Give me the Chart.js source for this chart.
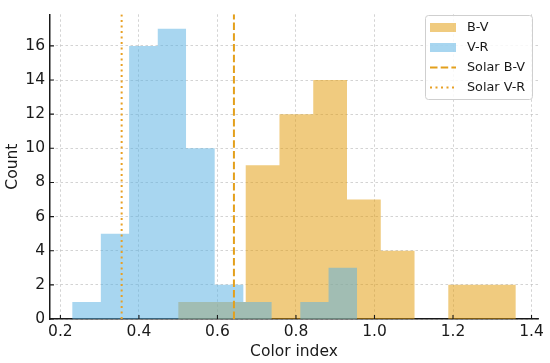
<!DOCTYPE html>
<html><head><meta charset="utf-8">
<script src="https://cdn.jsdelivr.net/npm/chart.js@4.4.1/dist/chart.umd.min.js"></script>
<style>html,body{margin:0;padding:0;background:#fff}#wrap{width:550px;height:363px}</style>
</head><body><div id="wrap"><canvas id="c" width="550" height="363"></canvas></div>
<script>
// ---- data ----
const seriesNames = ['B-V', 'V-R'];
const bvBinEdges = [0.500, 0.586, 0.672, 0.758, 0.844, 0.930, 1.016, 1.102, 1.188, 1.274, 1.360];
const bvCounts   = [1, 1, 9, 12, 14, 7, 4, 0, 2, 2];
const vrBinEdges = [0.230, 0.303, 0.375, 0.448, 0.520, 0.593, 0.666, 0.738, 0.811, 0.883, 0.956];
const vrCounts   = [1, 5, 16, 17, 10, 2, 1, 0, 1, 3];
const solarNames  = ['Solar B-V', 'Solar V-R'];
const solarValues = [0.642, 0.356];
const xTickValues = [0.2, 0.4, 0.6, 0.8, 1.0, 1.2, 1.4];
const yTickValues = [0, 2, 4, 6, 8, 10, 12, 14, 16];
const xTitle = 'Color index';
const yTitle = 'Count';

const X_MIN = 0.1735, X_MAX = 1.4165, Y_MAX = 17.85;
const FONT = "'DejaVu Sans', sans-serif";
const TXT = '#1a1a1a';

function stepPoints(edges, counts) {
  return edges.map((e, i) => ({ x: e, y: counts[Math.min(i, counts.length - 1)] }));
}

const bvFill = 'rgba(226,156,10,0.52)';
const vrFill = 'rgba(88,176,226,0.52)';

const datasets = [
  { label: seriesNames[0], kind: 'patch', data: stepPoints(bvBinEdges, bvCounts), stepped: 'before',
    fill: 'origin', backgroundColor: bvFill, borderColor: 'transparent', borderWidth: 0, pointRadius: 0, order: 2 },
  { label: seriesNames[1], kind: 'patch', data: stepPoints(vrBinEdges, vrCounts), stepped: 'before',
    fill: 'origin', backgroundColor: vrFill, borderColor: 'transparent', borderWidth: 0, pointRadius: 0, order: 1 },
  { label: solarNames[0], kind: 'line', data: [{ x: solarValues[0], y: 0 }, { x: solarValues[0], y: Y_MAX }],
    borderColor: '#E3A01C', borderWidth: 2, borderDash: [7.5, 3.2], pointRadius: 0, fill: false, order: 0, borderCapStyle: 'butt' },
  { label: solarNames[1], kind: 'line', data: [{ x: solarValues[1], y: 0 }, { x: solarValues[1], y: Y_MAX }],
    borderColor: '#E8A024', borderWidth: 2, borderDash: [2, 3.5], pointRadius: 0, fill: false, order: 0, borderCapStyle: 'butt' }
];

const tickMarks = {
  id: 'tickMarks',
  afterDraw(chart) {
    const ctx = chart.ctx, a = chart.chartArea;
    const xs = chart.scales.x, ys = chart.scales.y;
    ctx.save();
    ctx.strokeStyle = TXT; ctx.lineWidth = 1.1; ctx.setLineDash([]);
    ctx.beginPath();
    xTickValues.forEach(v => { const p = xs.getPixelForValue(v); ctx.moveTo(p, a.bottom); ctx.lineTo(p, a.bottom - 4); });
    yTickValues.forEach(v => { const p = ys.getPixelForValue(v); ctx.moveTo(a.left, p); ctx.lineTo(a.left + 4, p); });
    ctx.stroke();
    ctx.restore();
  }
};

const boxLegend = {
  id: 'boxLegend',
  afterDraw(chart) {
    const ctx = chart.ctx;
    const bx = 425.5, by = 15.5, bw = 107, bh = 84, r = 3;
    ctx.save();
    ctx.beginPath();
    ctx.moveTo(bx + r, by); ctx.lineTo(bx + bw - r, by); ctx.quadraticCurveTo(bx + bw, by, bx + bw, by + r);
    ctx.lineTo(bx + bw, by + bh - r); ctx.quadraticCurveTo(bx + bw, by + bh, bx + bw - r, by + bh);
    ctx.lineTo(bx + r, by + bh); ctx.quadraticCurveTo(bx, by + bh, bx, by + bh - r);
    ctx.lineTo(bx, by + r); ctx.quadraticCurveTo(bx, by, bx + r, by);
    ctx.closePath();
    ctx.fillStyle = 'rgba(255,255,255,0.85)'; ctx.fill();
    ctx.strokeStyle = '#cfcfcf'; ctx.lineWidth = 1; ctx.stroke();
    ctx.font = '12.8px ' + FONT; ctx.fillStyle = TXT; ctx.textBaseline = 'middle'; ctx.textAlign = 'left';
    chart.data.datasets.forEach((ds, i) => {
      const cy = 27.5 + i * 20;
      if (ds.kind === 'patch') {
        ctx.fillStyle = ds.backgroundColor; ctx.fillRect(430, cy - 4.5, 26, 9);
      } else {
        ctx.strokeStyle = ds.borderColor; ctx.lineWidth = 2; ctx.setLineDash(ds.borderDash);
        ctx.beginPath(); ctx.moveTo(430, cy); ctx.lineTo(456, cy); ctx.stroke(); ctx.setLineDash([]);
      }
      ctx.fillStyle = TXT; ctx.fillText(ds.label, 467, cy);
    });
    ctx.restore();
  }
};

new Chart(document.getElementById('c'), {
  type: 'line',
  data: { datasets },
  plugins: [tickMarks, boxLegend],
  options: {
    responsive: false, animation: false, devicePixelRatio: 1,
    layout: { padding: { left: 0, top: 9, right: 12, bottom: 0 } },
    plugins: { legend: { display: false }, tooltip: { enabled: false }, filler: { propagate: false } },
    scales: {
      x: {
        type: 'linear', min: X_MIN, max: X_MAX, z: 1,
        afterBuildTicks: s => { s.ticks = xTickValues.map(v => ({ value: v })); },
        afterFit: s => { s.height = 44; },
        grid: { color: 'rgba(185,185,185,0.8)', lineWidth: 0.8, drawTicks: false },
        border: { display: true, color: TXT, width: 1.5, dash: [2.5, 2.5] },
        ticks: { color: TXT, padding: 4, font: { family: FONT, size: 15.5 }, maxRotation: 0, autoSkip: false,
                 callback: v => Number(v).toFixed(1) },
        title: { display: true, text: xTitle, color: TXT, font: { family: FONT, size: 15.5 }, padding: { top: 0, bottom: 2 } }
      },
      y: {
        type: 'linear', min: 0, max: Y_MAX, z: 1,
        afterBuildTicks: s => { s.ticks = yTickValues.map(v => ({ value: v })); },
        afterFit: s => { s.width = 50; },
        grid: { color: 'rgba(185,185,185,0.8)', lineWidth: 0.8, drawTicks: false },
        border: { display: true, color: TXT, width: 1.5, dash: [2.5, 2.5] },
        ticks: { color: TXT, padding: 5, font: { family: FONT, size: 15.5 }, autoSkip: false,
                 callback: v => String(v) },
        title: { display: true, text: yTitle, color: TXT, font: { family: FONT, size: 15.5 }, padding: { top: 4, bottom: 0 } }
      }
    }
  }
});
</script></body></html>
